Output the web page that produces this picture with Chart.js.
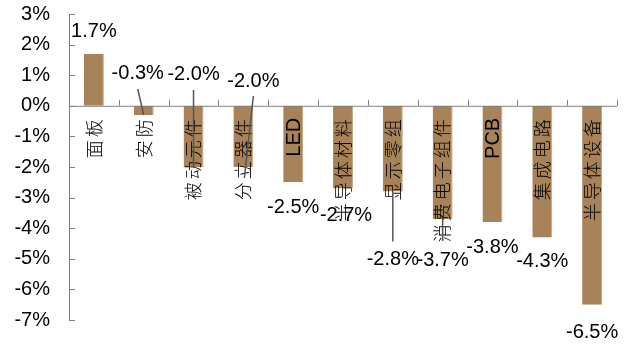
<!DOCTYPE html>
<html>
<head>
<meta charset="utf-8">
<script src="https://cdn.jsdelivr.net/npm/chart.js@4.4.1/dist/chart.umd.min.js"></script>
<style>
  html, body { margin: 0; padding: 0; background: #fff; }
  #wrap { width: 634px; height: 345px; }
</style>
</head>
<body>
<div id="wrap"><canvas id="chart"></canvas></div>
<script>
// 各行业涨跌幅 (%)
const categories = ['面板', '安防', '被动元件', '分立器件', 'LED', '半导体材料', '显示零组', '消费电子组件', 'PCB', '集成电路', '半导体设备'];
const changes = [1.7, -0.3, -2.0, -2.0, -2.5, -2.7, -2.8, -3.7, -3.8, -4.3, -6.5];
const yTicks = [3, 2, 1, 0, -1, -2, -3, -4, -5, -6, -7];

// label placement relative to the bar end, in px: [dx, dy]
const labelOffsets = [[0, -22], [-6, -41], [0, -93], [10, -86], [0, 25], [3, 27], [0, 68], [0, 41], [0, 25], [0, 24], [0, 28]];
// leader lines relative to the bar end: [x1, y1, x2, y2] or null
const leaders = [null, [-6, -26, 0, 0], [0, -77, 0, 0], [10, -71, 1, 11], null, null, [0, 50, 0, 0], [0, 22, 0, 0], null, null, null];

const AXIS = '#808080';
const LATIN = '"Liberation Sans", Arial, sans-serif';
const CJK = '"Noto Sans CJK SC", sans-serif';

const decorations = {
  id: 'decorations',
  afterDatasetsDraw(chart) {
    const { ctx, chartArea: area } = chart;
    const xs = chart.scales.x, ys = chart.scales.y;
    const zeroY = ys.getPixelForValue(0);
    const step = (area.right - area.left) / categories.length;

    ctx.save();
    // zero line with upward ticks between categories
    ctx.strokeStyle = AXIS;
    ctx.lineWidth = 1;
    ctx.beginPath();
    ctx.moveTo(area.left, zeroY + 0.5);
    ctx.lineTo(area.right, zeroY + 0.5);
    for (let i = 1; i <= categories.length; i++) {
      const x = Math.round(area.left + i * step) + 0.5;
      ctx.moveTo(x, zeroY);
      ctx.lineTo(x, zeroY - 6);
    }
    // inward ticks on the value axis
    yTicks.forEach(v => {
      const y = Math.round(ys.getPixelForValue(v)) + 0.5;
      ctx.moveTo(area.left, y);
      ctx.lineTo(area.left + 6, y);
    });
    ctx.stroke();

    // category names, rotated and hanging from the zero line
    ctx.fillStyle = '#000';
    categories.forEach((name, i) => {
      const x = xs.getPixelForValue(i);
      ctx.save();
      ctx.translate(x, zeroY + 12);
      ctx.rotate(-Math.PI / 2);
      ctx.textBaseline = 'middle';
      if (/^[A-Za-z]+$/.test(name)) {
        ctx.font = '20px ' + LATIN;
        ctx.textAlign = 'right';
        ctx.fillText(name, 0, 1);
      } else {
        ctx.font = '300 18px ' + CJK;
        ctx.textAlign = 'center';
        const pitch = 21;
        const n = name.length;
        for (let k = 0; k < n; k++) {
          ctx.fillText(name[k], -((n - 1 - k) * pitch + pitch / 2), 0);
        }
      }
      ctx.restore();
    });

    // leader lines and value labels
    const meta = chart.getDatasetMeta(0);
    ctx.strokeStyle = '#555';
    ctx.lineWidth = 1.5;
    meta.data.forEach((bar, i) => {
      const bx = bar.x, by = bar.y;
      const l = leaders[i];
      if (l) {
        ctx.beginPath();
        ctx.moveTo(bx + l[0], by + l[1]);
        ctx.lineTo(bx + l[2], by + l[3]);
        ctx.stroke();
      }
      ctx.font = '20px ' + LATIN;
      ctx.textAlign = 'center';
      ctx.textBaseline = 'middle';
      ctx.fillStyle = '#000';
      ctx.fillText(changes[i].toFixed(1) + '%', bx + labelOffsets[i][0], by + labelOffsets[i][1]);
    });
    ctx.restore();
  }
};

const ctx = document.getElementById('chart').getContext('2d');
const chart = new Chart(ctx, {
  type: 'bar',
  data: {
    labels: categories,
    datasets: [{
      data: changes,
      backgroundColor: '#A8835A',
      borderColor: '#C2A47F',
      borderWidth: { left: 0, right: 1, top: 0, bottom: 0 },
      borderSkipped: false,
      barPercentage: 0.4,
      categoryPercentage: 1.0
    }]
  },
  options: {
    responsive: true,
    maintainAspectRatio: false,
    animation: false,
    layout: { autoPadding: false, padding: { top: 14, right: 17, bottom: 25, left: 0 } },
    plugins: {
      legend: { display: false },
      tooltip: { enabled: false }
    },
    scales: {
      x: { display: false },
      y: {
        min: -7,
        max: 3,
        afterFit(scale) {
          scale.width = 69;
          scale.paddingTop = 0;
          scale.paddingBottom = 0;
        },
        afterBuildTicks(scale) { scale.ticks = yTicks.map(v => ({ value: v })); },
        border: { display: true, color: AXIS, width: 1 },
        grid: { display: false, drawTicks: false },
        ticks: {
          padding: 19,
          color: '#000',
          font: { family: LATIN, size: 20 },
          callback: v => v + '%'
        }
      }
    }
  },
  plugins: [decorations]
});
</script>
</body>
</html>
